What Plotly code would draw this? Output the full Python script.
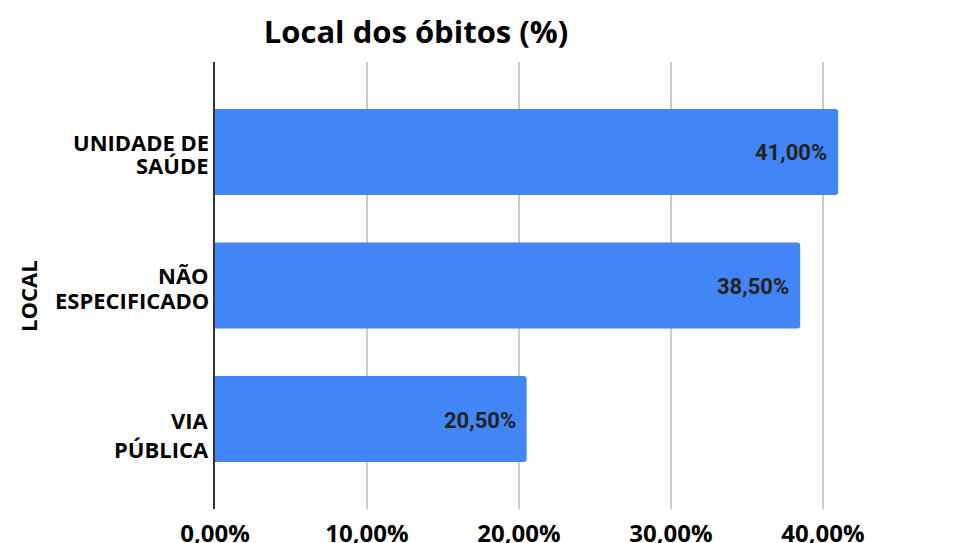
import plotly.graph_objects as go

# Dados do gráfico
locais = ["UNIDADE DE SAÚDE", "NÃO ESPECIFICADO", "VIA PÚBLICA"]
linhas_rotulo = [["UNIDADE DE", "SAÚDE"], ["NÃO", "ESPECIFICADO"], ["VIA", "PÚBLICA"]]
percentuais = [41.00, 38.50, 20.50]
tick_vals = [0, 10, 20, 30, 40]
tick_text = ["0,00%", "10,00%", "20,00%", "30,00%", "40,00%"]

# Deslocamento vertical (px) de cada linha dos rótulos de categoria
desloc_linhas = [[-10, 13], [-11, 14], [1, 30]]

L, R, T, B = 215, 66, 62, 34
W, H = 965, 543


def fmt_pct(v):
    return f"{v:.2f}".replace(".", ",") + "%"


fig = go.Figure(
    go.Bar(
        y=locais,
        x=percentuais,
        orientation="h",
        marker=dict(color="#4285F4", line=dict(width=0)),
        hoverinfo="skip",
    )
)

# Rótulos de valor dentro das barras, alinhados à direita
value_labels = [
    dict(
        x=v,
        y=cat,
        xref="x",
        yref="y",
        text=f"<b>{fmt_pct(v)}</b>",
        xanchor="right",
        yanchor="middle",
        xshift=-9,
        yshift=-1,
        showarrow=False,
        font=dict(family="Roboto", size=22, color="#222222"),
    )
    for cat, v in zip(locais, percentuais)
]

# Rótulos das categorias, uma anotação por linha
cat_labels = []
for cat, linhas, desl in zip(locais, linhas_rotulo, desloc_linhas):
    for linha, dy in zip(linhas, desl):
        cat_labels.append(
            dict(
                x=0,
                y=cat,
                xref="x",
                yref="y",
                text=f"<b>{linha}</b>",
                xanchor="right",
                yanchor="middle",
                xshift=-4,
                yshift=-dy,
                showarrow=False,
                font=dict(family="Open Sans", size=22, color="#000000"),
            )
        )

axis_title = dict(
    text="<b>LOCAL</b>",
    textangle=-90,
    x=(28 - L) / (W - L - R),
    y=(H - B - 296) / (H - T - B),
    xref="paper",
    yref="paper",
    xanchor="center",
    yanchor="middle",
    showarrow=False,
    font=dict(family="Open Sans", size=22, color="#000000"),
)

fig.update_layout(
    width=W,
    height=H,
    margin=dict(l=L, r=R, t=T, b=B, autoexpand=False),
    paper_bgcolor="white",
    plot_bgcolor="white",
    bargap=0.356,
    barcornerradius=3,
    showlegend=False,
    title=dict(
        text="<b>Local dos óbitos (%)</b>",
        font=dict(family="Open Sans", size=31, color="#000000"),
        x=416 / W,
        xanchor="center",
        xref="container",
        y=1 - 32 / H,
        yanchor="middle",
        yref="container",
    ),
    xaxis=dict(
        range=[0, 45],
        tickvals=tick_vals,
        ticktext=tick_text,
        tickfont=dict(family="Open Sans", size=24, color="#000000", weight="bold"),
        showgrid=True,
        gridcolor="#cccccc",
        gridwidth=1.5,
        zeroline=False,
        showline=False,
        automargin=False,
        ticklabelstandoff=8,
        fixedrange=True,
    ),
    yaxis=dict(
        autorange=False,
        range=[2.674, -0.674],
        showticklabels=False,
        showgrid=False,
        showline=True,
        linecolor="#333333",
        linewidth=1.5,
        ticks="",
        automargin=False,
        fixedrange=True,
    ),
    annotations=value_labels + cat_labels + [axis_title],
)

fig.write_html("out.html")
